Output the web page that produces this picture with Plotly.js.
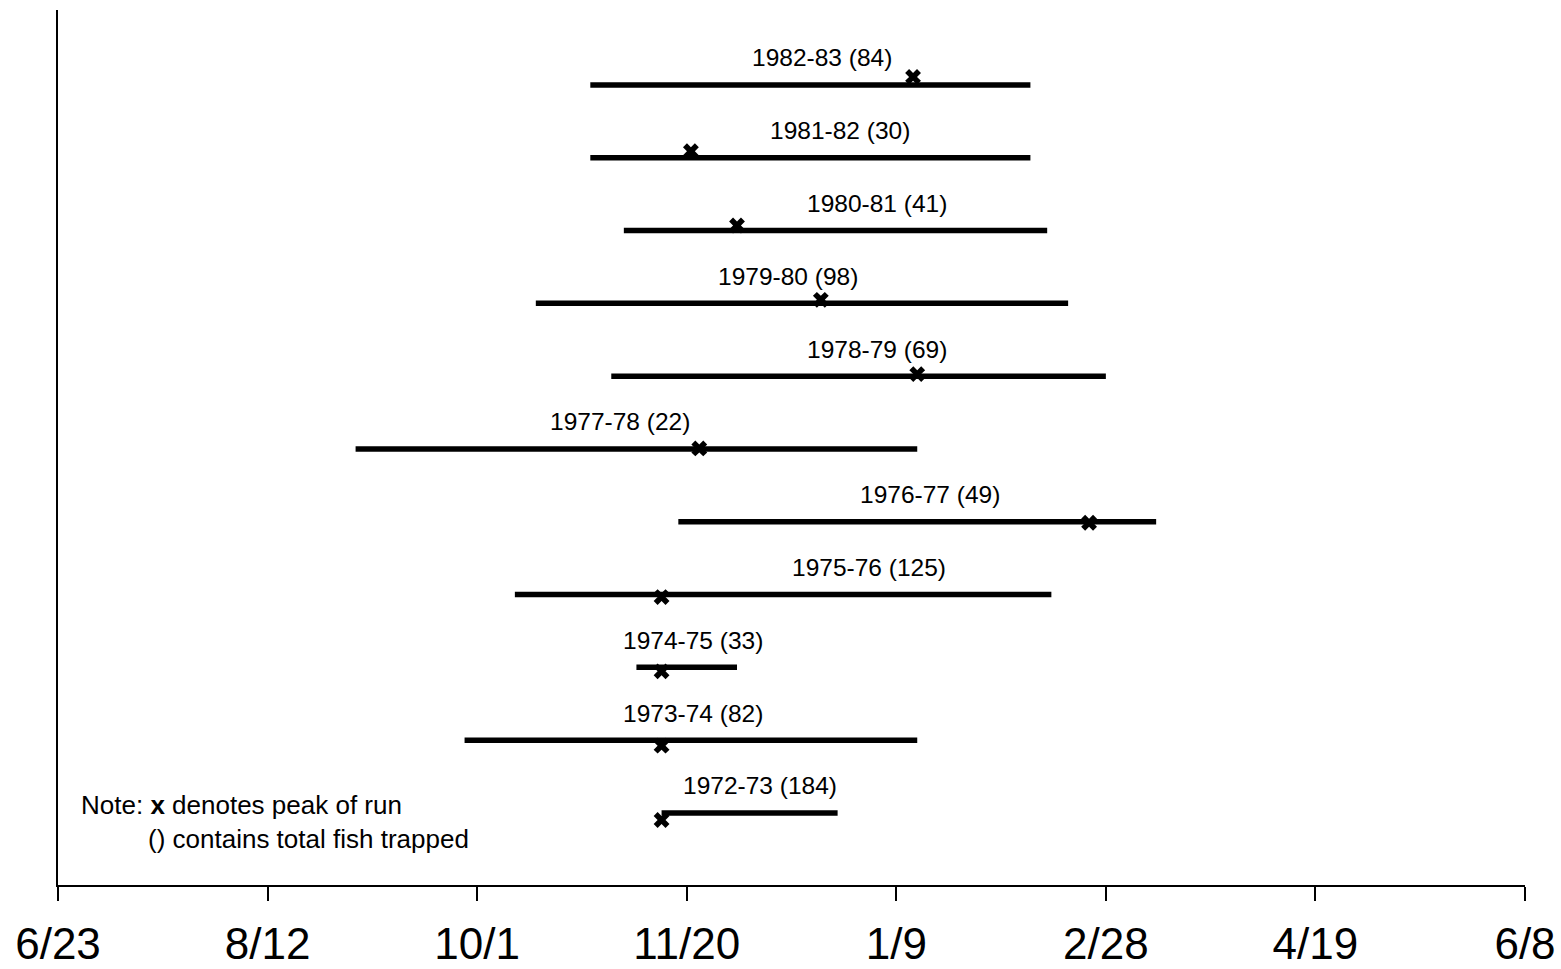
<!DOCTYPE html>
<html>
<head>
<meta charset="utf-8">
<script src="https://cdn.plot.ly/plotly-3.0.1.min.js"></script>
<style>html,body{margin:0;padding:0;background:#fff;}#chart{width:1561px;height:969px;}</style>
</head>
<body>
<div id="chart"></div>
<script>
// Days counted from 6/23 (start of the axis)
const seasons = ["1972-73","1973-74","1974-75","1975-76","1976-77","1977-78","1978-79","1979-80","1980-81","1981-82","1982-83"];
const totalFish = [184, 82, 33, 125, 49, 22, 69, 98, 41, 30, 84];
const runStartDay = [144, 97, 138, 109, 148, 71, 132, 114, 135, 127, 127];
const runEndDay   = [186, 205, 162, 237, 262, 205, 250, 241, 236, 232, 232];
const peakDay     = [144, 144, 144, 144, 246, 153, 205, 182, 162, 151, 204];
const labelDay    = [167.5, 151.5, 151.5, 193.5, 208, 134, 195.4, 174.2, 195.4, 186.6, 182.3];
const tickDays    = [0, 50, 100, 150, 200, 250, 300, 350];
const tickLabels  = ["6/23", "8/12", "10/1", "11/20", "1/9", "2/28", "4/19", "6/8"];

const FONT = '"Liberation Sans", Arial, Helvetica, sans-serif';

const lx = [], ly = [];
seasons.forEach((s, i) => {
  lx.push(runStartDay[i], runEndDay[i], null);
  ly.push(i, i, null);
});

const traces = [
  {
    type: 'scatter', mode: 'lines', x: lx, y: ly,
    line: {color: '#000', width: 5.5}, hoverinfo: 'skip', showlegend: false
  },
  {
    type: 'scatter', mode: 'markers', yaxis: 'y2',
    x: peakDay, y: seasons.map((s, i) => i),
    marker: {symbol: 'x', size: 14, color: '#000', line: {width: 0}},
    hoverinfo: 'skip', showlegend: false
  }
];

const annotations = seasons.map((s, i) => ({
  x: labelDay[i], y: i, xref: 'x', yref: 'y',
  text: s + ' (' + totalFish[i] + ')',
  showarrow: false, yshift: 27, xanchor: 'center', yanchor: 'middle',
  font: {family: FONT, size: 24.5, color: '#000'}
}));

annotations.push({
  x: 5.0, y: 0.11, xref: 'x', yref: 'y', xanchor: 'left', yanchor: 'middle',
  showarrow: false, text: 'Note: <b>x</b> denotes peak of run',
  font: {family: FONT, size: 26, color: '#000'}
});
annotations.push({
  x: 21.0, y: -0.36, xref: 'x', yref: 'y', xanchor: 'left', yanchor: 'middle',
  showarrow: false, text: '() contains total fish trapped',
  font: {family: FONT, size: 26, color: '#000'}
});

const layout = {
  width: 1561, height: 969,
  margin: {l: 58, r: 36, t: 10, b: 84},
  paper_bgcolor: '#fff', plot_bgcolor: '#fff',
  showlegend: false,
  xaxis: {
    range: [0, 350], tickvals: tickDays, ticktext: tickLabels,
    showgrid: false, zeroline: false,
    showline: true, linecolor: '#000', linewidth: 2,
    ticks: 'outside', ticklen: 14, tickwidth: 2, tickcolor: '#000',
    ticklabelstandoff: 5,
    tickfont: {family: FONT, size: 44, color: '#000'},
    fixedrange: true
  },
  yaxis: {
    range: [-0.99, 11.03],
    showgrid: false, zeroline: false,
    showline: true, linecolor: '#000', linewidth: 2.5,
    ticks: '', showticklabels: false, fixedrange: true
  },
  yaxis2: {
    overlaying: 'y', range: [-0.875, 10.9],
    showgrid: false, zeroline: false, showline: false,
    ticks: '', showticklabels: false, fixedrange: true
  },
  annotations: annotations
};

Plotly.newPlot('chart', traces, layout, {displayModeBar: false, staticPlot: true});
</script>
</body>
</html>
